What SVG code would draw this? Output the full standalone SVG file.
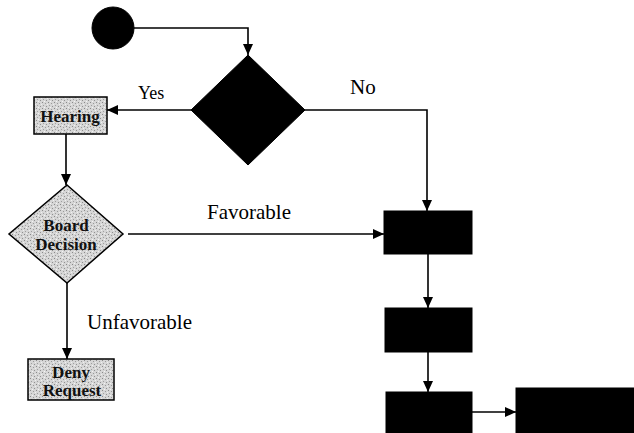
<svg xmlns="http://www.w3.org/2000/svg" width="634" height="433" viewBox="0 0 634 433">
  <style>
    .edge { fill: none; stroke: #000; stroke-width: 1.6; }
    .solid { fill: #000; stroke: #000; stroke-width: 1; }
    .grey { fill: url(#stipple); stroke: #000; stroke-width: 1.5; }
    text { font-family: 'Liberation Serif', 'Times New Roman', 'DejaVu Serif', serif; }
    .lbl { fill: #000; }
    .nlbl { font-weight: bold; font-size: 17px; fill: #111; text-anchor: middle; }
  </style>
  <defs>
    <pattern id="stipple" width="6" height="6" patternUnits="userSpaceOnUse">
      <rect width="6" height="6" fill="#d6d6d6"/>
      <rect x="0" y="0" width="1" height="1" fill="#8a8a8a"/>
      <rect x="3" y="1" width="1" height="1" fill="#9a9a9a"/>
      <rect x="1" y="3" width="1" height="1" fill="#a0a0a0"/>
      <rect x="4" y="4" width="1" height="1" fill="#909090"/>
      <rect x="5" y="2" width="1" height="1" fill="#f0f0f0"/>
      <rect x="2" y="5" width="1" height="1" fill="#f4f4f4"/>
    </pattern>
    <marker id="arrow" markerUnits="userSpaceOnUse" markerWidth="12" markerHeight="10" refX="11" refY="5" orient="auto">
      <path d="M0,0 L11,5 L0,10 Z" fill="#000"/>
    </marker>
  </defs>

  <!-- connectors -->
  <g id="connectors">
    <path class="edge" d="M134,28 H248 V55" marker-end="url(#arrow)"/>
    <path class="edge" d="M191,110 H107" marker-end="url(#arrow)"/>
    <path class="edge" d="M305,110 H427 V211" marker-end="url(#arrow)"/>
    <path class="edge" d="M66,134 V185" marker-end="url(#arrow)"/>
    <path class="edge" d="M128,234 H384" marker-end="url(#arrow)"/>
    <path class="edge" d="M67,283 V359" marker-end="url(#arrow)"/>
    <path class="edge" d="M428,254 V308" marker-end="url(#arrow)"/>
    <path class="edge" d="M428,352 V392" marker-end="url(#arrow)"/>
    <path class="edge" d="M472,412 H516" marker-end="url(#arrow)"/>
  </g>

  <!-- edge labels -->
  <g id="edge-labels">
    <text class="lbl" x="138" y="99" font-size="18" font-family="Liberation Serif, serif">Yes</text>
    <text class="lbl" x="350" y="94" font-size="21" font-family="Liberation Serif, serif">No</text>
    <text class="lbl" x="207" y="219" font-size="21" font-family="Liberation Serif, serif">Favorable</text>
    <text class="lbl" x="87" y="329" font-size="21" font-family="Liberation Serif, serif">Unfavorable</text>
  </g>

  <g id="start">
    <circle class="solid" cx="113" cy="28" r="21"/>
  </g>

  <g id="decision">
    <polygon class="solid" points="248,55 305,110 248,165 191,110"/>
  </g>

  <g id="hearing">
    <rect class="grey" x="34" y="97" width="73" height="37"/>
    <text class="nlbl" x="70" y="122">Hearing</text>
  </g>

  <g id="board-decision">
    <polygon class="grey" points="67,185 123,234 67,283 9,234"/>
    <text class="nlbl" x="66" y="231">Board</text>
    <text class="nlbl" x="66" y="250">Decision</text>
  </g>

  <g id="deny-request">
    <rect class="grey" x="28" y="359" width="86" height="41"/>
    <text class="nlbl" x="71" y="378" font-size="16">Deny</text>
    <text class="nlbl" x="72" y="396" font-size="16">Request</text>
  </g>

  <g id="step-1">
    <rect class="solid" x="384" y="211" width="88" height="43"/>
  </g>
  <g id="step-2">
    <rect class="solid" x="385" y="308" width="87" height="44"/>
  </g>
  <g id="step-3">
    <rect class="solid" x="386" y="392" width="86" height="50"/>
  </g>
  <g id="step-4">
    <rect class="solid" x="516" y="388" width="118" height="54"/>
  </g>
</svg>
